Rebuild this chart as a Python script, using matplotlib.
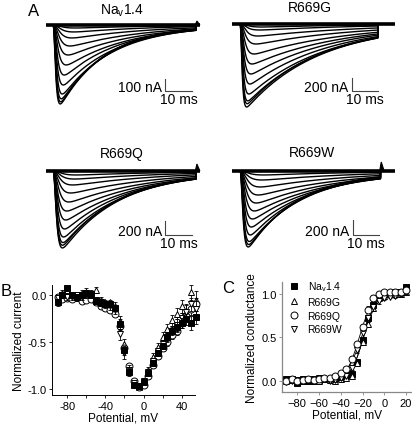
import numpy as np
import matplotlib
matplotlib.use('Agg')
import matplotlib.pyplot as plt

plt.rcParams['font.family'] = ['Liberation Sans', 'DejaVu Sans']
plt.rcParams['mathtext.fontset'] = 'custom'
plt.rcParams['mathtext.rm'] = 'Liberation Sans'

W, H = 412, 427

# ---- panel A: current families (peak amplitude nA, inactivation tau ms, activation tau ms)
trace_titles = ['Na$_\\mathregular{v}$1.4', 'R669G', 'R669Q', 'R669W']
scale_nA = [100, 200, 200, 200]

amps_nav = [658, 640, 615, 575, 500, 417, 333, 250, 175, 108, 58, 25]
tauh_nav = [17, 17, 18, 19, 20, 21, 23, 25, 27, 29, 30, 30]
taum_nav = [0.6, 0.65, 0.7, 0.8, 0.9, 1.0, 1.2, 1.4, 1.6, 1.8, 2.0, 2.2]

amps_g = [1328, 1275, 1230, 1120, 960, 800, 640, 480, 320, 192, 96, 48]
tauh_g = [28, 28, 29, 30, 31, 32, 34, 36, 38, 40, 40, 40]
taum_g = [0.5, 0.55, 0.6, 0.7, 0.8, 0.9, 1.0, 1.2, 1.4, 1.6, 1.8, 2.0]

amps_q = [1140, 1100, 1060, 978, 859, 726, 593, 459, 326, 207, 119, 59]
tauh_q = [21, 21, 22, 23, 24, 26, 28, 30, 32, 34, 36, 36]
taum_q = [0.8, 0.8, 0.85, 0.9, 1.0, 1.1, 1.2, 1.4, 1.6, 1.8, 2.0, 2.2]

amps_w = [1013, 980, 940, 853, 747, 640, 533, 427, 320, 213, 120, 53]
tauh_w = [19, 20, 21, 22, 24, 26, 28, 30, 32, 34, 36, 36]
taum_w = [0.7, 0.75, 0.8, 0.9, 1.0, 1.1, 1.3, 1.5, 1.7, 1.9, 2.1, 2.3]

pulse_ms = 53
end_spike_nA = [33, 0, 104, 120]

# ---- panel B: normalized I-V
v_iv = np.arange(-90, 60, 5)
iv_nav = [-0.08, 0.00, 0.07, 0.00, -0.02, 0.00, 0.02, 0.00, -0.06, -0.09, -0.10, -0.10, -0.14, -0.31,
          -0.59, -0.82, -0.96, -0.97, -0.93, -0.83, -0.72, -0.62, -0.54, -0.45, -0.38, -0.34, -0.30,
          -0.26, -0.30, -0.24]
iv_g = [-0.02, 0.02, 0.05, 0.00, -0.03, 0.02, 0.03, 0.02, 0.05, -0.05, -0.08, -0.08, -0.12, -0.28,
        -0.52, -0.78, -0.95, -0.98, -0.93, -0.80, -0.66, -0.55, -0.45, -0.36, -0.27, -0.20, -0.12,
        -0.18, 0.03, -0.05]
iv_q = [-0.02, -0.04, -0.03, -0.04, -0.02, -0.06, -0.05, -0.04, -0.08, -0.12, -0.14, -0.16, -0.20,
        -0.33, -0.57, -0.76, -0.92, -0.98, -0.96, -0.86, -0.75, -0.65, -0.56, -0.50, -0.43, -0.38,
        -0.30, -0.22, -0.15, -0.10]
iv_w = [-0.03, 0.00, -0.02, -0.02, 0.00, -0.02, 0.00, 0.01, -0.05, -0.08, -0.10, -0.12, -0.16, -0.42,
        -0.62, -0.80, -0.94, -0.97, -0.92, -0.82, -0.70, -0.60, -0.52, -0.45, -0.38, -0.32, -0.25,
        -0.18, -0.10, -0.15]
iv_err_nav = [0.04, 0.03, 0.03, 0.03, 0.03, 0.03, 0.03, 0.03, 0.03, 0.03, 0.03, 0.03, 0.03, 0.05,
              0.05, 0.04, 0.03, 0.02, 0.02, 0.03, 0.03, 0.03, 0.03, 0.04, 0.04, 0.05, 0.05, 0.06,
              0.07, 0.07]
iv_err_g = [0.03, 0.03, 0.03, 0.03, 0.03, 0.03, 0.04, 0.03, 0.03, 0.03, 0.03, 0.03, 0.04, 0.05,
            0.05, 0.04, 0.03, 0.02, 0.03, 0.03, 0.04, 0.04, 0.05, 0.05, 0.06, 0.06, 0.07, 0.08,
            0.08, 0.09]
iv_err_q = [0.03, 0.03, 0.03, 0.03, 0.03, 0.03, 0.03, 0.03, 0.03, 0.03, 0.03, 0.03, 0.03, 0.04,
            0.04, 0.03, 0.03, 0.02, 0.02, 0.03, 0.03, 0.03, 0.04, 0.04, 0.04, 0.05, 0.05, 0.06,
            0.06, 0.07]
iv_err_w = [0.03, 0.03, 0.03, 0.03, 0.03, 0.03, 0.03, 0.03, 0.03, 0.03, 0.04, 0.04, 0.04, 0.06,
            0.06, 0.05, 0.03, 0.02, 0.03, 0.03, 0.03, 0.04, 0.04, 0.05, 0.05, 0.06, 0.06, 0.07,
            0.07, 0.08]

# ---- panel C: normalized conductance
v_gv = np.arange(-90, 25, 5)
gv_nav = [0.02, 0.02, -0.03, 0.02, 0.00, 0.00, 0.01, 0.02, 0.02, 0.03, 0.04, 0.05, 0.08, 0.22,
          0.47, 0.72, 0.88, 0.97, 1.00, 1.01, 1.02, 1.02, 1.08]
gv_g = [0.00, 0.01, 0.00, 0.00, 0.01, 0.01, 0.00, 0.02, 0.01, 0.00, 0.02, 0.03, 0.05, 0.20, 0.45,
        0.66, 0.84, 0.95, 0.98, 1.00, 1.00, 1.00, 1.03]
gv_q = [0.00, 0.02, 0.00, 0.01, 0.02, 0.01, 0.02, 0.03, 0.03, 0.06, 0.09, 0.13, 0.25, 0.42, 0.62,
        0.82, 0.95, 1.00, 1.02, 1.02, 1.03, 1.02, 1.05]
gv_w = [-0.01, 0.00, 0.01, 0.00, 0.02, 0.02, 0.03, 0.02, 0.00, 0.01, 0.03, 0.06, 0.15, 0.35, 0.55,
        0.72, 0.85, 0.92, 0.95, 0.97, 0.98, 1.00, 1.02]
gv_err = [0.02, 0.02, 0.02, 0.02, 0.02, 0.02, 0.02, 0.02, 0.02, 0.02, 0.02, 0.02, 0.03, 0.03, 0.04,
          0.04, 0.04, 0.03, 0.02, 0.02, 0.02, 0.02, 0.02]
# Boltzmann fit parameters: V1/2 (mV), slope k (mV)
fit_vhalf = [-19.5, -19.0, -23.0, -21.0]
fit_k = [5.5, 6.0, 6.0, 7.0]

series_labels = ['Na$_\\mathregular{v}$1.4', 'R669G', 'R669Q', 'R669W']
markers = ['s', '^', 'o', 'v']


fig = plt.figure(figsize=(W / 100, H / 100), dpi=100)


def px_rect(l, t, r, b):
    return [l / W, 1 - b / H, (r - l) / W, (b - t) / H]


def trace_panel(box, onset, base, px_ms, px_nA, amps, tauh, taum, bar_nA, bar_pos, spike):
    l, t, r, b = box
    ax = fig.add_axes(px_rect(l, t, r, b))
    ax.set_xlim((l - onset) / px_ms, (r - onset) / px_ms)
    ax.set_ylim(-(b - base) / px_nA, (base - t) / px_nA)
    ax.axis('off')
    tt = np.linspace(0, pulse_ms, 800)
    for a, th, tm in zip(amps, tauh, taum):
        g = (1 - np.exp(-tt / tm)) ** 3 * np.exp(-tt / th)
        cur = -a * g / g.max()
        ax.plot(np.r_[tt, pulse_ms], np.r_[cur, 0], color='black', lw=1.0)
    x_end = (r - 5 - onset) / px_ms
    ax.plot([(l + 6 - onset) / px_ms, x_end], [0, 0], color='black', lw=2.6, solid_capstyle='butt')
    if spike:
        ax.fill([pulse_ms - 0.3, pulse_ms + 0.3, pulse_ms + 1.4], [0, spike, 0], color='black', lw=0.8)
    # scale bar
    bx, by = bar_pos
    ax.plot([bx, bx, bx + 10], [by + bar_nA, by, by], color='#444444', lw=0.8, clip_on=False)
    ax.text(bx - 1.2, by, '%d nA' % bar_nA, ha='right', va='baseline', fontsize=10)
    ax.text(bx + 5, by - 1.5 / px_nA, '10 ms', ha='center', va='top', fontsize=10)
    return ax


trace_panel((40, 14, 205, 120), 53, 26, 2.7, 0.12, amps_nav, tauh_nav, taum_nav,
            scale_nA[0], (41.5, -550), end_spike_nA[0])
trace_panel((226, 12, 400, 118), 240, 25, 2.6, 0.0625, amps_g, tauh_g, taum_g,
            scale_nA[1], (43.0, -1070), end_spike_nA[1])
trace_panel((40, 160, 205, 262), 53, 172, 2.7, 0.0675, amps_q, tauh_q, taum_q,
            scale_nA[2], (41.5, -948), end_spike_nA[2])
trace_panel((226, 160, 400, 262), 240, 172, 2.65, 0.075, amps_w, tauh_w, taum_w,
            scale_nA[3], (42.6, -853), end_spike_nA[3])

title_px = [(122, 15), (310, 12), (122, 158), (312, 157)]
for txt, (tx, ty) in zip(trace_titles, title_px):
    fig.text(tx / W, 1 - ty / H, txt, ha='center', va='baseline', fontsize=10)

fig.text(28 / W, 1 - 16 / H, 'A', fontsize=12)
fig.text(1 / W, 1 - 296 / H, 'B', fontsize=12)
fig.text(222 / W, 1 - 293 / H, 'C', fontsize=12)

# ---- panel B
axb = fig.add_axes(px_rect(52, 286, 195, 396))
iv_sets = [iv_g, iv_q, iv_w, iv_nav]
iv_errs = [iv_err_g, iv_err_q, iv_err_w, iv_err_nav]
order = [1, 2, 3, 0]
for vals, errs, k in zip(iv_sets, iv_errs, order):
    face = 'black' if k == 0 else 'white'
    axb.errorbar(v_iv, vals, yerr=errs, fmt='none', ecolor='black', elinewidth=0.6, capsize=1.5,
                 capthick=0.6, clip_on=False)
    axb.plot(v_iv, vals, linestyle='none', marker=markers[k], ms=5, mfc=face, mec='black',
             mew=0.7, clip_on=False)
axb.set_xlim(-96, 54)
axb.set_ylim(-1.065, 0.105)
axb.set_xticks(np.arange(-80, 60, 20))
axb.set_xticklabels(['-80', '', '-40', '', '0', '', '40'])
axb.set_yticks([-1.0, -0.5, 0.0])
axb.set_yticklabels(['-1.0', '-0.5', '0.0'])
axb.set_xlabel('Potential, mV', fontsize=8.5, labelpad=1)
axb.set_ylabel('Normalized current', fontsize=8.5, labelpad=2)
axb.tick_params(labelsize=8, length=2.5, width=0.6, pad=1.5)
for s in ['top', 'right']:
    axb.spines[s].set_visible(False)
for s in ['left', 'bottom']:
    axb.spines[s].set_linewidth(0.7)

# ---- panel C
axc = fig.add_axes(px_rect(282, 283, 412, 393))
gv_sets = [gv_nav, gv_g, gv_q, gv_w]
vfit = np.linspace(-90, 22, 300)
for k in range(4):
    axc.plot(vfit, 1 / (1 + np.exp((fit_vhalf[k] - vfit) / fit_k[k])), color='black', lw=0.6)
for k in [0, 1, 3, 2]:
    face = 'black' if k == 0 else 'white'
    axc.errorbar(v_gv, gv_sets[k], yerr=gv_err, fmt='none', ecolor='black', elinewidth=0.6,
                 capsize=1.5, capthick=0.6, clip_on=False)
    axc.plot(v_gv, gv_sets[k], linestyle='none', marker=markers[k], ms=5, mfc=face, mec='black',
             mew=0.7, clip_on=False, label=series_labels[k])
handles, labels = axc.get_legend_handles_labels()
idx = [labels.index(s) for s in series_labels]
axc.legend([handles[i] for i in idx], [labels[i] for i in idx], loc='upper left',
           bbox_to_anchor=(0.02, 1.06), frameon=False, fontsize=7.5, handlelength=1.0,
           handletextpad=0.8, labelspacing=0.35, borderaxespad=0)
axc.set_xlim(-94, 25.5)
axc.set_ylim(-0.13, 1.14)
axc.set_xticks([-80, -60, -40, -20, 0, 20])
axc.set_yticks([0.0, 0.5, 1.0])
axc.set_yticklabels(['0.0', '0.5', '1.0'])
axc.set_xlabel('Potential, mV', fontsize=8.5, labelpad=1)
axc.set_ylabel('Normalized conductance', fontsize=8.5, labelpad=2)
axc.tick_params(labelsize=8, length=2.5, width=0.6, pad=1.5, color='#888888')
for s in ['top', 'right']:
    axc.spines[s].set_visible(False)
for s in ['left', 'bottom']:
    axc.spines[s].set_linewidth(0.9)
    axc.spines[s].set_color('#888888')

fig.savefig('out.png', dpi=100)
